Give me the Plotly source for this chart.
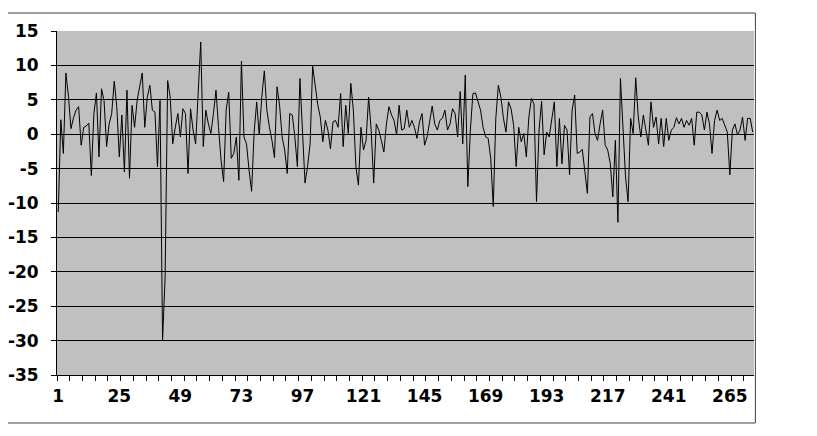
import plotly.graph_objects as go

# values, one per category (1..274)
values = [
    -11.3, 2.1, -2.8, 8.9, 5.5, 0.8, 2.4, 3.5, 4.0, -1.6,
    1.0, 1.2, 1.6, -6.0, 3.0, 6.0, -3.3, 6.6, 4.9, -1.8,
    1.5, 3.0, 7.7, 4.0, -3.3, 2.8, -5.5, 6.4, -6.4, 4.2,
    1.0, 4.9, 6.9, 8.9, 1.0, 5.4, 7.1, 3.5, 3.2, -4.7,
    4.9, -30.0, -20.7, 7.8, 5.4, -1.4, 1.0, 3.0, -0.4, 3.7,
    3.0, -5.7, 3.7, 0.6, -1.4, 6.4, 13.4, -1.8, 3.5, 1.5,
    0.1, 3.0, 6.4, 1.0, -3.8, -6.9, 3.5, 6.1, -3.5, -2.8,
    -0.4, -6.7, 10.6, -0.4, -1.4, -5.2, -8.3, 0.3, 4.7, -0.1,
    5.4, 9.2, 3.5, 1.0, -0.9, -3.4, 6.9, 4.2, -0.4, -2.3,
    -5.7, 3.0, 2.8, -0.4, -4.7, 8.1, 0.1, -7.1, -4.7, -1.4,
    9.9, 7.3, 4.3, 2.5, -1.1, 2.0, 0.6, -2.1, 1.8, 2.0,
    1.0, 5.9, -1.8, 4.2, 0.1, 7.4, 3.5, -4.7, -7.4, 1.0,
    -2.3, -0.9, 5.4, 0.6, -7.1, 1.5, 0.6, -0.9, -2.6, 1.5,
    4.0, 2.8, 2.0, -0.1, 4.2, 0.6, 0.8, 3.5, 1.0, 2.0,
    1.0, -0.6, 1.8, 3.0, -1.6, -0.4, 2.0, 4.1, 1.5, 0.6,
    2.0, 2.3, 3.5, 0.6, 1.5, 3.7, 3.0, -0.4, 6.2, -1.4,
    8.6, -7.6, 0.6, 5.9, 6.0, 4.9, 3.5, 1.0, -0.4, -0.6,
    -3.5, -10.5, 2.3, 7.1, 5.4, 2.3, 0.3, 4.7, 3.7, 1.3,
    -4.7, 1.0, -1.1, 0.1, -3.3, 2.5, 5.2, 4.4, -9.8, 0.6,
    4.8, -3.0, 0.3, -0.4, 2.5, 4.7, -4.7, 2.3, -4.3, 1.3,
    0.6, -5.9, 3.5, 5.7, -2.8, -2.6, -2.2, -5.2, -8.6, 2.5,
    3.0, 0.1, -0.9, 1.5, 3.5, -1.6, -2.3, -4.3, -9.1, -0.9,
    -12.8, 8.1, 1.0, -6.2, -9.8, 2.3, 0.1, 8.2, 2.5, -0.4,
    2.8, 0.6, -1.6, 4.7, 1.0, 2.5, -1.4, 2.3, -1.8, 2.3,
    -0.9, 0.6, 1.0, 2.4, 1.5, 2.3, 1.0, 2.0, 1.3, 2.3,
    -1.6, 3.2, 3.2, 2.8, 0.6, 3.2, 1.5, -2.8, 2.0, 3.5,
    2.0, 2.3, 1.3, 0.3, -5.9, 0.6, 1.5, -0.1, 0.6, 2.5,
    -0.9, 2.3, 2.3, 0.3,
]
categories = list(range(1, len(values) + 1))
x_labels = [1, 25, 49, 73, 97, 121, 145, 169, 193, 217, 241, 265]
y_ticks = [15, 10, 5, 0, -5, -10, -15, -20, -25, -30, -35]

font = dict(family="DejaVu Sans", size=17, color="black")

fig = go.Figure()
fig.add_trace(go.Scatter(
    x=categories, y=values, mode="lines",
    line=dict(color="black", width=1),
    showlegend=False, hoverinfo="skip",
))

# the page body adds an 8px offset, so the figure is a bit smaller
fig.update_layout(
    width=809, height=428,
    margin=dict(l=49, r=63, t=23, b=61),
    paper_bgcolor="white",
    plot_bgcolor="#c0c0c0",
    font=font,
)

fig.update_xaxes(
    range=[0.5, len(values) + 0.5],
    tickmode="array", tickvals=x_labels,
    ticktext=["<b>%d</b>" % v for v in x_labels],
    ticks="", ticklabelstandoff=6,
    showgrid=False, zeroline=False, automargin=False,
    showline=True, linecolor="black", linewidth=1,
    minor=dict(tickmode="array",
               tickvals=[0.5 + 5 * k for k in range(55)],
               ticks="outside", ticklen=5, tickcolor="black",
               showgrid=False),
)

fig.update_yaxes(
    range=[-35, 15],
    tickmode="array", tickvals=y_ticks,
    ticktext=["<b>%d</b>" % v for v in y_ticks],
    ticks="outside", ticklen=5, tickcolor="black",
    ticklabelstandoff=9, automargin=False,
    showgrid=True, gridcolor="black", gridwidth=1,
    zeroline=False,
    showline=True, linecolor="black", linewidth=1,
)

# outer chart border
fig.add_shape(type="rect", xref="paper", yref="paper",
              x0=-0.0717, x1=1.002, y0=-0.1395, y1=1.0523,
              line=dict(color="#404040", width=1), layer="above")

fig.write_html("out.html")
